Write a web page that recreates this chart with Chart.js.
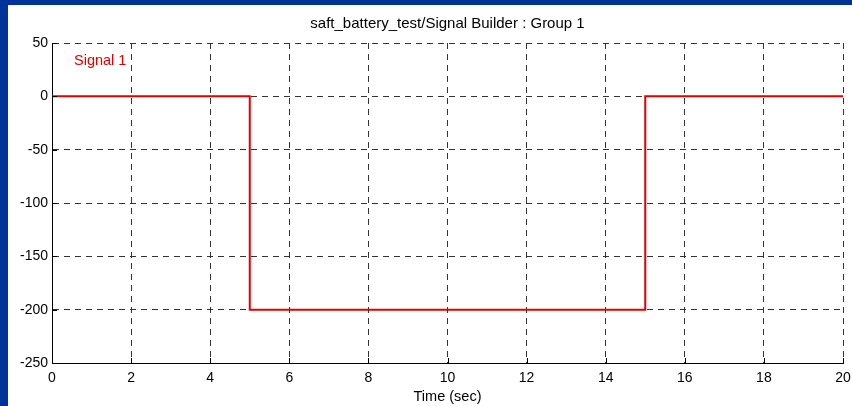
<!DOCTYPE html>
<html>
<head>
<meta charset="utf-8">
<script src="https://cdn.jsdelivr.net/npm/chart.js@4/dist/chart.umd.min.js"></script>
<style>
  html, body { margin: 0; padding: 0; background: #003399; width: 852px; height: 406px; overflow: hidden; }
  #panel { position: absolute; left: 8px; top: 5px; width: 844px; height: 401px; background: #ffffff; }
  canvas { display: block; }
</style>
</head>
<body>
<div id="panel"><canvas id="c" width="844" height="401"></canvas></div>
<script>
// Signal breakpoints (time in seconds, amplitude)
const times = [0, 5, 5, 15, 15, 20];
const values = [0, 0, -200, -200, 0, 0];
const xTicks = [0, 2, 4, 6, 8, 10, 12, 14, 16, 18, 20];
const yTicks = [50, 0, -50, -100, -150, -200, -250];
const titleText = 'saft_battery_test/Signal Builder : Group 1';
const seriesName = 'Signal 1';
const xAxisLabel = 'Time (sec)';

const FONT = '"Liberation Sans", Arial, sans-serif';

// Title, inward tick marks and the signal name label
const decorations = {
  id: 'decorations',
  afterDraw(chart) {
    const { ctx, chartArea, scales } = chart;
    ctx.save();
    // inward ticks on left and bottom axes
    ctx.strokeStyle = '#000';
    ctx.lineWidth = 1;
    ctx.beginPath();
    yTicks.forEach(v => {
      const y = Math.round(scales.y.getPixelForValue(v)) + 0.5;
      ctx.moveTo(chartArea.left, y);
      ctx.lineTo(chartArea.left + 5, y);
    });
    xTicks.forEach(v => {
      const x = Math.round(scales.x.getPixelForValue(v)) + 0.5;
      ctx.moveTo(x, chartArea.bottom);
      ctx.lineTo(x, chartArea.bottom - 5);
    });
    ctx.stroke();
    // title
    ctx.fillStyle = '#000';
    ctx.font = '15px ' + FONT;
    ctx.textAlign = 'center';
    ctx.textBaseline = 'middle';
    ctx.fillText(titleText, (chartArea.left + chartArea.right) / 2, 19);
    // series name
    ctx.fillStyle = '#e00000';
    ctx.font = '14.5px ' + FONT;
    ctx.textAlign = 'left';
    ctx.fillText(seriesName, chartArea.left + 22, chartArea.top + 18);
    ctx.restore();
  }
};

new Chart(document.getElementById('c'), {
  type: 'line',
  data: {
    datasets: [{
      label: seriesName,
      data: times.map((t, i) => ({ x: t, y: values[i] })),
      borderColor: '#e00000',
      borderWidth: 2,
      pointRadius: 0,
      tension: 0,
      fill: false
    }]
  },
  options: {
    responsive: false,
    animation: false,
    devicePixelRatio: 1,
    layout: { padding: { top: 38, right: 9, left: 0, bottom: 0 } },
    plugins: {
      legend: { display: false },
      title: { display: false },
      tooltip: { enabled: false }
    },
    scales: {
      x: {
        type: 'linear',
        min: 0, max: 20,
        afterBuildTicks(scale) { scale.ticks = xTicks.map(v => ({ value: v })); },
        afterFit(scale) { scale.height = 43; scale.paddingRight = 0; scale.paddingLeft = 0; },
        ticks: { color: '#000', font: { family: FONT, size: 14 }, padding: 7, maxRotation: 0 },
        grid: { color: '#333', lineWidth: 1, drawTicks: false },
        border: { display: true, color: '#000', width: 1, dash: [6, 5] },
        title: { display: true, text: xAxisLabel, color: '#000', font: { family: FONT, size: 14.5 }, padding: { top: 0, bottom: 0 } }
      },
      y: {
        type: 'linear',
        min: -250, max: 50,
        afterBuildTicks(scale) { scale.ticks = yTicks.map(v => ({ value: v })); },
        afterFit(scale) { scale.width = 44; },
        ticks: { color: '#000', font: { family: FONT, size: 14 }, padding: 4 },
        grid: { color: '#333', lineWidth: 1, drawTicks: false },
        border: { display: true, color: '#000', width: 1, dash: [6, 5] }
      }
    }
  },
  plugins: [decorations]
});
</script>
</body>
</html>
